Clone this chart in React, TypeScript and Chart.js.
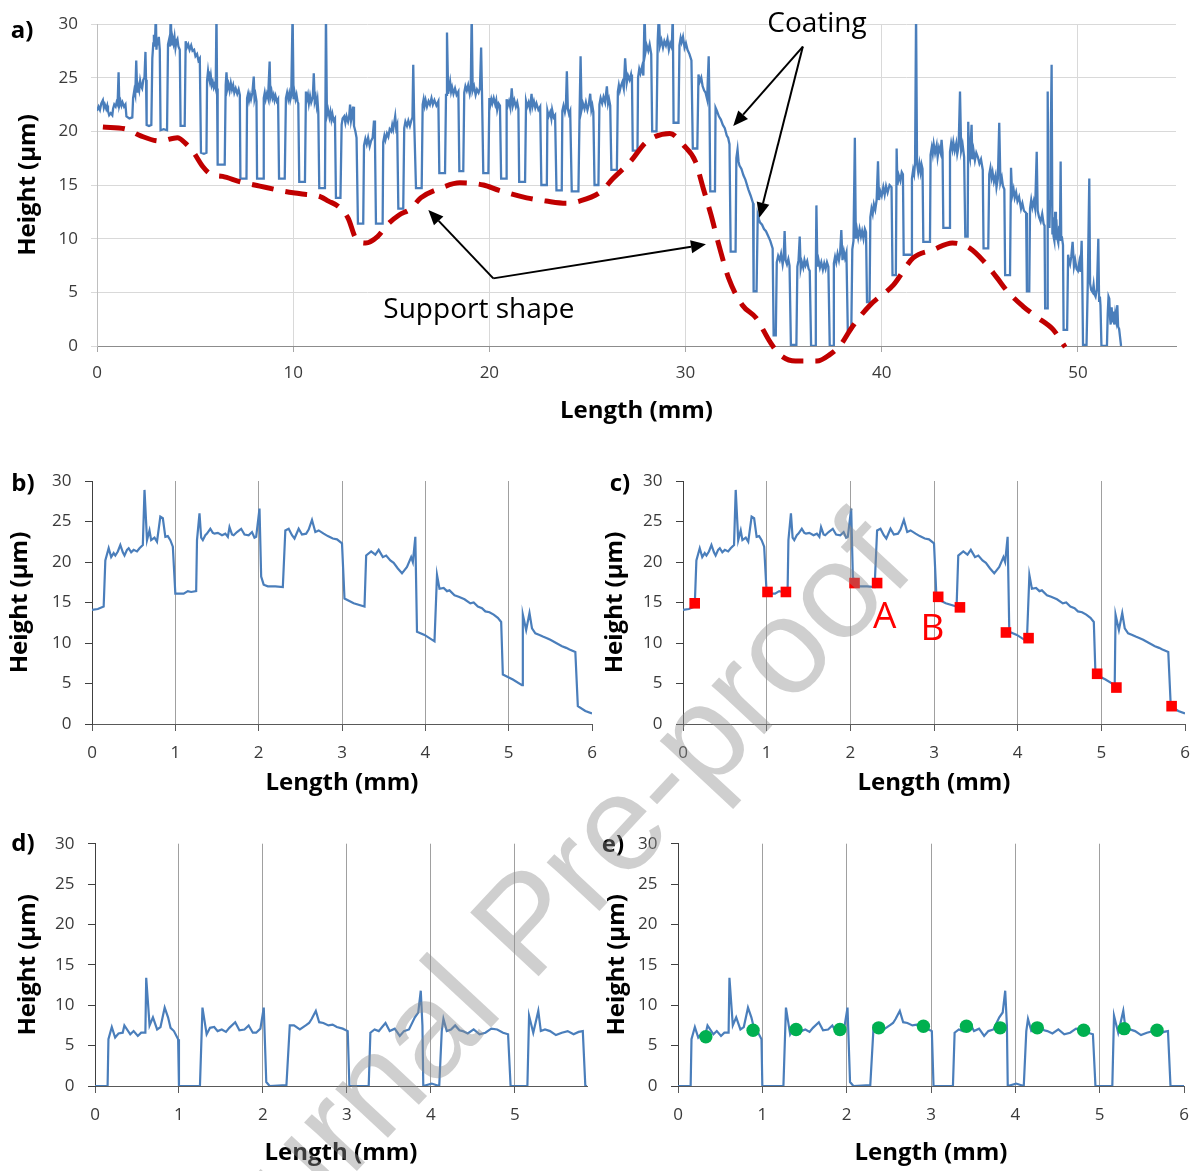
import React, { useEffect, useRef } from "react";
import { Chart, registerables } from "chart.js";

Chart.register(...registerables);

type Pt = [number, number];

// ---------- Panel a : full coating profile (Length mm, Height µm) ----------
const profileA: Pt[] = [
  [0, 21.9], [0.08, 22.3], [0.15, 22.0], [0.22, 22.6], [0.3, 22.9], [0.35, 22.2], [0.4, 22.5], [0.47, 22.1], [0.52, 22.4], [0.56, 21.9],
  [0.62, 21.5], [0.7, 21.7], [0.78, 21.5], [0.82, 22.1], [0.88, 22.5], [0.95, 22.3], [1.0, 22.7], [1.05, 22.5], [1.1, 25.5], [1.14, 22.4], [1.2, 22.8], [1.25, 22.4], [1.3, 22.7], [1.38, 22.3], [1.45, 22.5], [1.5, 21.4], [1.65, 21.2], [1.8, 21.3],
  [1.84, 23.1], [1.9, 23.8], [1.95, 23.4], [2.0, 26.6], [2.05, 23.6], [2.1, 24.2], [2.15, 23.8], [2.2, 24.7], [2.25, 24.2], [2.3, 24.0], [2.36, 24.8], [2.42, 25.0], [2.47, 27.4], [2.5, 24.8],
  [2.53, 20.6], [2.65, 20.5], [2.77, 20.6],
  [2.82, 26.8], [2.87, 28.2], [2.9, 29.0], [2.95, 27.9], [3.0, 31], [3.03, 27.6], [3.07, 28.6], [3.1, 28.0], [3.15, 28.8], [3.2, 27.6],
  [3.24, 20.1], [3.4, 20.2], [3.57, 20.1],
  [3.62, 28.1], [3.68, 28.6], [3.72, 27.9], [3.76, 31], [3.8, 28.0], [3.85, 28.7], [3.9, 28.2], [3.95, 28.8], [4.0, 27.8], [4.05, 28.4], [4.1, 28.6], [4.15, 27.9], [4.22, 27.6],
  [4.26, 20.5], [4.47, 20.5],
  [4.52, 28.4], [4.58, 27.8], [4.65, 28.1], [4.72, 27.6], [4.8, 28.0], [4.87, 27.5], [4.95, 27.6], [5.02, 27.0], [5.1, 27.2], [5.17, 26.6], [5.24, 26.8],
  [5.3, 18.0], [5.45, 17.9], [5.58, 18.0],
  [5.61, 24.7], [5.66, 25.6], [5.7, 25.0], [5.75, 24.6], [5.8, 25.2], [5.85, 24.3], [5.9, 24.6], [5.95, 24.1], [6.0, 24.4], [6.05, 24.0], [6.09, 31], [6.12, 24.0],
  [6.15, 16.9], [6.51, 16.9],
  [6.56, 24.3], [6.6, 25.5], [6.65, 24.0], [6.7, 24.4], [6.76, 23.8], [6.82, 24.5], [6.88, 23.9], [6.94, 24.3], [7.0, 23.6], [7.07, 24.0], [7.15, 23.5], [7.22, 23.9], [7.28, 23.4],
  [7.31, 15.6], [7.62, 15.6],
  [7.65, 23.1], [7.7, 23.5], [7.75, 22.9], [7.8, 23.4], [7.85, 23.0], [7.92, 23.6], [7.99, 25.1], [8.03, 23.0], [8.08, 23.4], [8.13, 22.8],
  [8.16, 15.6], [8.47, 15.6],
  [8.5, 23.1], [8.55, 23.6], [8.6, 23.0], [8.66, 23.5], [8.72, 23.1], [8.8, 26.5], [8.84, 23.2], [8.9, 23.7], [8.95, 23.1], [9.0, 23.4], [9.05, 22.9], [9.1, 23.3], [9.17, 22.8], [9.23, 23.0],
  [9.28, 15.6], [9.57, 15.6],
  [9.63, 23.1], [9.69, 23.6], [9.75, 23.0], [9.8, 23.5], [9.85, 22.9], [9.9, 23.3], [9.97, 31], [10.02, 23.0], [10.07, 23.6], [10.12, 23.0], [10.17, 23.4], [10.22, 22.8], [10.26, 22.6],
  [10.31, 15.3], [10.6, 15.3],
  [10.65, 23.7], [10.7, 23.0], [10.75, 23.4], [10.8, 22.6], [10.86, 23.3], [10.92, 22.7], [11.0, 23.2], [11.05, 25.4], [11.1, 22.8], [11.15, 23.2], [11.2, 22.4], [11.24, 22.9], [11.28, 21.8],
  [11.33, 14.7], [11.62, 14.7],
  [11.67, 31], [11.72, 21.5], [11.78, 22.0], [11.85, 21.3], [11.9, 21.8], [11.95, 21.1], [12.0, 21.6], [12.06, 21.0], [12.13, 21.2],
  [12.18, 13.8], [12.41, 13.8],
  [12.47, 20.6], [12.52, 21.2], [12.6, 21.4], [12.66, 20.8], [12.72, 21.4], [12.8, 20.9], [12.85, 21.3], [12.9, 22.5], [12.95, 21.0], [13.0, 21.5], [13.05, 22.3], [13.1, 20.5], [13.17, 20.0], [13.23, 19.4],
  [13.3, 11.4], [13.57, 11.4],
  [13.61, 18.7], [13.68, 19.3], [13.75, 18.8], [13.82, 19.4], [13.9, 18.6], [13.97, 19.1], [14.05, 19.4], [14.12, 21.0], [14.17, 19.0],
  [14.22, 11.4], [14.56, 11.4],
  [14.59, 19.0], [14.65, 19.6], [14.7, 19.2], [14.78, 19.8], [14.85, 19.5], [14.92, 20.2], [15.0, 20.0], [15.05, 20.6], [15.1, 20.2], [15.2, 21.4], [15.25, 20.3], [15.3, 20.6],
  [15.36, 12.8], [15.61, 12.8],
  [15.66, 20.3], [15.72, 20.9], [15.8, 20.5], [15.87, 21.0], [15.95, 20.5], [16.02, 21.0], [16.08, 21.3], [16.12, 26.2], [16.17, 20.8],
  [16.26, 14.7], [16.55, 14.7],
  [16.6, 22.5], [16.65, 23.0], [16.7, 22.4], [16.75, 22.9], [16.82, 22.3], [16.9, 22.8], [16.97, 22.5], [17.05, 23.1], [17.12, 22.5], [17.2, 22.9], [17.3, 22.4], [17.4, 22.8],
  [17.45, 16.1], [17.74, 16.1],
  [17.79, 23.4], [17.84, 29.2], [17.9, 23.5], [17.95, 24.0], [18.0, 24.6], [18.05, 23.7], [18.1, 24.1], [18.17, 23.5], [18.25, 24.0], [18.33, 23.4], [18.42, 23.7],
  [18.47, 16.3], [18.67, 16.3],
  [18.72, 23.6], [18.78, 24.2], [18.85, 23.8], [18.92, 24.3], [19.0, 23.5], [19.05, 24.0], [19.1, 31], [19.15, 23.8], [19.22, 24.2], [19.3, 23.4], [19.37, 23.9], [19.45, 23.6], [19.52, 24.0], [19.58, 27.8], [19.63, 23.0],
  [19.69, 16.1], [19.95, 16.1],
  [20.0, 23.1], [20.05, 22.5], [20.1, 23.0], [20.15, 22.6], [20.22, 23.1], [20.3, 22.5], [20.35, 22.9], [20.4, 22.0], [20.47, 22.6], [20.54, 22.4],
  [20.6, 15.6], [20.85, 15.6],
  [20.88, 23.0], [20.94, 22.4], [21.0, 22.8], [21.07, 22.2], [21.14, 24.0], [21.2, 22.4], [21.27, 22.9], [21.35, 22.3], [21.42, 22.7], [21.48, 22.1],
  [21.52, 15.3], [21.82, 15.3],
  [21.87, 22.8], [21.93, 22.3], [22.0, 22.7], [22.07, 22.1], [22.15, 23.5], [22.2, 22.3], [22.27, 22.8], [22.34, 22.2], [22.4, 22.6], [22.5, 22.0], [22.59, 22.3],
  [22.65, 15.0], [22.93, 15.0],
  [22.96, 21.9], [23.02, 21.4], [23.1, 21.8], [23.16, 21.2], [23.2, 22.0], [23.28, 21.3], [23.35, 21.5],
  [23.42, 14.5], [23.69, 14.5],
  [23.72, 21.9], [23.78, 22.4], [23.85, 21.8], [23.9, 22.3], [23.95, 25.6], [24.0, 22.1], [24.06, 21.6], [24.12, 21.9],
  [24.2, 14.4], [24.54, 14.4],
  [24.6, 21.9], [24.65, 27.0], [24.7, 22.0], [24.77, 22.6], [24.85, 22.1], [24.92, 22.7], [25.0, 22.0], [25.07, 22.5], [25.14, 23.5], [25.2, 22.0], [25.25, 22.4], [25.3, 21.8],
  [25.36, 15.0], [25.56, 15.0],
  [25.61, 22.5], [25.67, 23.1], [25.75, 22.6], [25.82, 23.2], [25.9, 22.7], [25.99, 24.2], [26.05, 22.6], [26.1, 23.0], [26.16, 22.4],
  [26.22, 16.4], [26.5, 16.4],
  [26.55, 23.7], [26.6, 24.3], [26.65, 23.8], [26.7, 24.2], [26.78, 24.6], [26.85, 24.0], [26.92, 26.8], [27.0, 24.5], [27.07, 25.2], [27.15, 24.8], [27.22, 25.3], [27.27, 24.6],
  [27.31, 18.2], [27.55, 18.2],
  [27.58, 25.0], [27.64, 25.8], [27.7, 25.4], [27.78, 26.0], [27.85, 25.2], [27.91, 31], [27.96, 27.4], [28.02, 28.0], [28.1, 27.5], [28.17, 28.1], [28.25, 27.2],
  [28.3, 20.0], [28.52, 20.0],
  [28.58, 28.4], [28.64, 31], [28.7, 28.0], [28.77, 28.5], [28.85, 27.8], [28.92, 28.4], [29.0, 28.0], [29.08, 28.6], [29.15, 27.6], [29.22, 28.2], [29.3, 27.8], [29.35, 31],
  [29.39, 20.8], [29.64, 20.8],
  [29.69, 28.0], [29.75, 28.7], [29.8, 28.3], [29.87, 28.8], [29.95, 27.8], [30.02, 28.2], [30.1, 27.6], [30.2, 27.2], [30.3, 26.6],
  [30.37, 18.4], [30.6, 18.4],
  [30.66, 25.3], [30.72, 24.6], [30.8, 25.0], [30.87, 24.2], [30.95, 23.8], [31.02, 23.6], [31.1, 23.0], [31.18, 27.0], [31.22, 22.5],
  [31.26, 14.4], [31.5, 14.4],
  [31.53, 22.2], [31.6, 21.9], [31.7, 21.4], [31.8, 21.1], [31.9, 20.6], [32.0, 20.3], [32.1, 19.6], [32.17, 19.4], [32.24, 18.8],
  [32.3, 8.8], [32.55, 8.8],
  [32.59, 17.5], [32.65, 18.3], [32.7, 17.2], [32.75, 16.8], [32.85, 16.5], [32.95, 15.9], [33.05, 15.5], [33.2, 14.6], [33.32, 14.0], [33.44, 13.3],
  [33.47, 5.1], [33.62, 5.1],
  [33.68, 12.2], [33.74, 11.8], [33.8, 11.5], [33.9, 11.3], [34.0, 10.9], [34.1, 10.7], [34.2, 10.3], [34.32, 9.8], [34.44, 9.1],
  [34.49, 1.0], [34.6, 1.0],
  [34.65, 7.8], [34.72, 8.4], [34.8, 8.0], [34.87, 8.6], [34.95, 7.6], [35.0, 8.2], [35.05, 10.7], [35.1, 8.0], [35.17, 7.6], [35.24, 8.1], [35.3, 7.5],
  [35.37, 0.1], [35.65, 0.1],
  [35.7, 7.4], [35.76, 8.0], [35.82, 10.2], [35.87, 7.2], [35.93, 7.8], [36.0, 7.3], [36.06, 8.0], [36.12, 7.5], [36.2, 7.9], [36.27, 7.2], [36.33, 7.0],
  [36.4, 0], [36.6, 0],
  [36.64, 7.0], [36.67, 13.1], [36.72, 7.4], [36.78, 8.0], [36.85, 7.3], [36.92, 7.8], [37.0, 7.1], [37.07, 7.7], [37.14, 7.2], [37.21, 7.8], [37.28, 7.4],
  [37.35, 0], [37.52, 0],
  [37.56, 7.7], [37.62, 8.3], [37.68, 7.8], [37.75, 8.6], [37.82, 8.0], [37.88, 8.7], [37.94, 10.8], [38.0, 8.0], [38.07, 8.8], [38.13, 8.2], [38.2, 8.7],
  [38.27, 1.5], [38.45, 1.5],
  [38.5, 9.0], [38.56, 9.8], [38.63, 19.4], [38.68, 10.0], [38.74, 10.8], [38.8, 10.1], [38.87, 10.9], [38.94, 10.2], [39.0, 10.7], [39.07, 10.0], [39.14, 10.9], [39.2, 10.6],
  [39.25, 4.1], [39.38, 4.1],
  [39.42, 12.0], [39.48, 12.8], [39.54, 12.3], [39.6, 13.2], [39.67, 12.7], [39.74, 13.6], [39.81, 17.2], [39.86, 13.6], [39.93, 14.4], [40.0, 14.0], [40.08, 14.8], [40.15, 14.1], [40.22, 14.9], [40.3, 14.3], [40.4, 15.0], [40.5, 14.8],
  [40.55, 6.6], [40.72, 6.6],
  [40.76, 18.4], [40.8, 15.0], [40.87, 15.9], [40.95, 15.4], [41.02, 16.2], [41.08, 16.0],
  [41.12, 8.5], [41.5, 8.5],
  [41.54, 15.6], [41.6, 16.4], [41.65, 16.0], [41.7, 17.1], [41.75, 31], [41.8, 17.0], [41.86, 16.2], [41.92, 17.0], [41.98, 16.2], [42.03, 16.9], [42.08, 16.5],
  [42.12, 9.7], [42.46, 9.7],
  [42.49, 17.8], [42.55, 18.5], [42.6, 17.9], [42.65, 18.8], [42.72, 18.0], [42.8, 18.7], [42.85, 17.6], [42.92, 18.5], [43.0, 18.0], [43.05, 19.2], [43.1, 18.0],
  [43.14, 11.0], [43.44, 11.0],
  [43.48, 18.1], [43.54, 18.9], [43.6, 18.3], [43.65, 19.0], [43.72, 18.2], [43.8, 18.9], [43.85, 17.9], [43.92, 18.6], [43.99, 23.7], [44.05, 18.2], [44.12, 18.8], [44.2, 17.6],
  [44.26, 10.2], [44.38, 10.2],
  [44.41, 20.9], [44.45, 18.0], [44.5, 17.5], [44.58, 20.6], [44.62, 17.4], [44.68, 18.2], [44.75, 17.3], [44.82, 18.0], [44.9, 17.6], [44.98, 17.0], [45.06, 17.4], [45.15, 16.4],
  [45.19, 9.1], [45.43, 9.1],
  [45.48, 16.0], [45.54, 16.6], [45.6, 15.7], [45.65, 16.2], [45.72, 15.3], [45.8, 15.9], [45.85, 14.8], [45.92, 15.6], [45.99, 20.8], [46.05, 15.2], [46.12, 15.7], [46.18, 14.9], [46.25, 14.6],
  [46.29, 6.6], [46.54, 6.6],
  [46.59, 16.6], [46.65, 14.0], [46.72, 14.6], [46.78, 13.8], [46.85, 14.3], [46.92, 13.5], [47.0, 13.9], [47.1, 12.8], [47.17, 13.3], [47.25, 12.6], [47.36, 12.4],
  [47.4, 5.1], [47.52, 5.1],
  [47.56, 12.8], [47.62, 13.6], [47.68, 12.9], [47.75, 13.5], [47.82, 12.8], [47.9, 18.1], [47.95, 12.6], [48.02, 12.0], [48.1, 11.6], [48.18, 12.3], [48.25, 11.4], [48.3, 11.2],
  [48.33, 3.5], [48.44, 3.5],
  [48.46, 23.7], [48.5, 12.2], [48.55, 11.0], [48.58, 13.5], [48.62, 20.0], [48.66, 26.2], [48.7, 10.5], [48.72, 12.0], [48.76, 10.2], [48.8, 9.8], [48.84, 12.5], [48.88, 9.9], [48.9, 11.8], [48.95, 10.0], [49.0, 9.6], [49.05, 11.2], [49.08, 9.8], [49.12, 17.2], [49.15, 9.9], [49.18, 10.2], [49.24, 9.4],
  [49.27, 1.5], [49.45, 1.5],
  [49.5, 8.5], [49.55, 7.9], [49.6, 7.6], [49.66, 8.3], [49.73, 9.7], [49.8, 7.4], [49.86, 8.0], [49.93, 7.2], [50.0, 7.0], [50.07, 7.8], [50.13, 6.9], [50.19, 9.8], [50.22, 6.8],
  [50.26, 0.1], [50.44, 0.1],
  [50.5, 5.6], [50.58, 15.6], [50.62, 5.8], [50.68, 5.2], [50.75, 5.0], [50.8, 5.7], [50.85, 4.8], [50.9, 4.6], [50.97, 5.3], [51.04, 10.0], [51.08, 4.2], [51.12, 4.6], [51.15, 3.8],
  [51.2, 0], [51.48, 0],
  [51.52, 3.0], [51.56, 4.6], [51.6, 4.4], [51.64, 2.6], [51.67, 2.0], [51.72, 3.6], [51.76, 2.2], [51.8, 3.2], [51.85, 2.0], [51.9, 3.0], [51.95, 2.4], [52.01, 3.8], [52.05, 1.8], [52.1, 1.6], [52.15, 0.8], [52.2, 0],
];

// Panel a : support shape (red dashed guide)
const supportA: Pt[] = [
  [0.3, 20.4], [1.5, 20.2], [2.2, 19.6], [3.2, 19.1], [4.1, 19.4], [4.5, 18.9], [4.9, 18.1], [5.4, 16.7],
  [5.8, 16.0], [6.4, 15.8], [7.3, 15.3], [8.3, 14.9], [9.3, 14.5], [10.3, 14.2], [11.4, 13.9], [11.8, 13.5],
  [12.3, 13.0], [12.8, 11.9], [13.2, 10.0], [13.7, 9.6], [14.3, 10.2], [14.8, 11.3], [15.4, 12.2], [16.0, 12.8],
  [16.5, 13.8], [17.5, 14.7], [18.5, 15.2], [19.7, 15.0], [20.5, 14.5], [21.9, 13.8], [22.9, 13.5], [23.9, 13.3],
  [24.6, 13.5], [25.7, 14.4], [26.3, 15.6], [27.2, 17.2], [28.0, 19.0], [29.2, 19.8], [29.9, 18.7], [30.5, 17.2],
  [30.9, 14.7], [31.3, 12.2], [31.7, 9.4], [32.2, 6.3], [32.9, 3.8], [33.6, 2.6], [34.3, 0.4], [34.8, -0.8],
  [35.6, -1.4], [36.7, -1.4], [37.35, -0.8], [37.9, 0.1], [38.5, 1.8], [39.4, 3.8], [40.6, 5.7], [41.6, 8.2],
  [42.6, 8.95], [43.6, 9.6], [44.5, 9.1], [45.2, 7.9], [45.9, 6.3], [46.4, 5.1], [47.2, 3.7], [47.9, 2.7],
  [48.75, 1.5], [49.35, -0.1],
];

// ---------- Panels b & c : 6 mm section ----------
const profileBC: Pt[] = [
  [0, 14.1], [0.07, 14.2], [0.14, 14.5], [0.16, 20.2], [0.2, 21.7], [0.23, 20.6], [0.26, 21.1], [0.28, 20.8], [0.31, 21.3],
  [0.34, 22.1], [0.37, 21.2], [0.39, 20.8], [0.42, 21.5], [0.44, 21.7], [0.47, 21.2], [0.5, 21.5], [0.54, 21.3], [0.57, 21.7],
  [0.61, 22.1], [0.63, 28.9], [0.66, 22.7], [0.69, 23.9], [0.71, 22.7], [0.75, 23.0], [0.78, 22.5], [0.82, 25.6], [0.85, 25.4],
  [0.88, 23.1], [0.91, 23.2], [0.94, 22.7], [0.97, 21.9],
  [1.0, 16.1], [1.1, 16.1], [1.15, 16.4], [1.19, 16.3], [1.25, 16.4],
  [1.26, 22.7], [1.29, 26.0], [1.31, 23.0], [1.33, 22.7], [1.36, 23.3], [1.38, 23.5], [1.42, 24.1], [1.45, 23.6], [1.47, 23.5],
  [1.51, 23.6], [1.56, 23.3], [1.6, 23.5], [1.63, 23.1], [1.65, 24.3], [1.68, 23.4], [1.7, 23.3], [1.74, 23.7], [1.79, 24.1],
  [1.83, 23.4], [1.88, 23.3], [1.92, 23.7], [1.95, 23.0], [1.97, 23.1], [2.01, 26.6],
  [2.03, 18.2], [2.06, 17.2], [2.11, 17.0], [2.2, 17.0], [2.29, 16.9],
  [2.32, 23.9], [2.36, 24.1], [2.4, 23.3], [2.43, 22.9], [2.48, 24.1], [2.52, 23.4], [2.57, 23.5], [2.6, 24.0], [2.64, 25.2],
  [2.68, 23.7], [2.72, 23.9], [2.78, 23.5], [2.83, 23.2], [2.89, 22.9], [2.94, 22.8], [3.0, 22.3],
  [3.03, 15.5], [3.14, 14.9], [3.27, 14.5],
  [3.29, 20.8], [3.35, 21.3], [3.4, 20.9], [3.44, 21.5], [3.49, 20.6], [3.53, 20.8], [3.58, 20.2], [3.62, 19.9], [3.67, 19.2],
  [3.72, 18.6], [3.78, 19.4], [3.83, 20.6], [3.85, 20.0], [3.88, 23.1],
  [3.9, 11.4], [3.99, 11.0], [4.11, 10.2],
  [4.14, 18.4], [4.17, 16.7], [4.22, 16.8], [4.26, 16.4], [4.29, 16.5], [4.35, 15.9], [4.4, 15.7], [4.47, 15.4], [4.54, 14.9],
  [4.58, 15.0], [4.63, 14.5], [4.68, 14.3], [4.72, 13.9], [4.77, 13.8], [4.82, 13.5], [4.87, 13.1], [4.91, 12.6],
  [4.93, 6.1], [5.05, 5.5], [5.16, 4.8],
  [5.17, 13.5], [5.21, 11.6], [5.25, 13.7], [5.28, 11.8], [5.32, 11.2], [5.37, 11.0], [5.41, 10.8], [5.46, 10.6], [5.5, 10.4],
  [5.57, 10.0], [5.64, 9.6], [5.69, 9.4], [5.73, 9.2], [5.8, 8.9],
  [5.83, 2.2], [5.92, 1.6], [6.0, 1.3],
];

// Panel c : trench-edge points (red squares) and labels
const squaresC: Pt[] = [
  [0.14, 14.9], [1.01, 16.3], [1.23, 16.3], [2.05, 17.4], [2.32, 17.4], [3.05, 15.7],
  [3.31, 14.4], [3.86, 11.3], [4.13, 10.6], [4.95, 6.2], [5.18, 4.5], [5.84, 2.2],
];
const lettersC = ["A", "B"];
const lettersCX = [2.41, 2.98];
const lettersCY = [11.8, 10.4];

// ---------- Panels d & e : coating thickness after support removal ----------
const profileDE: Pt[] = [
  [0, 0], [0.15, 0], [0.16, 5.8], [0.2, 7.3], [0.24, 6.0], [0.28, 6.5], [0.33, 6.6], [0.35, 7.5], [0.42, 6.4], [0.46, 6.8],
  [0.51, 6.2], [0.55, 6.6], [0.6, 6.6], [0.61, 13.4], [0.65, 7.5], [0.69, 8.5], [0.74, 7.0], [0.78, 7.3], [0.83, 9.7],
  [0.87, 8.5], [0.9, 7.2], [0.94, 6.8], [0.99, 5.8], [1.0, 0],
  [1.25, 0], [1.28, 9.7], [1.33, 6.4], [1.37, 7.2], [1.42, 7.3], [1.46, 6.8], [1.51, 7.0], [1.56, 6.7], [1.6, 7.2], [1.67, 7.9],
  [1.72, 6.9], [1.78, 7.0], [1.83, 7.5], [1.88, 6.6], [1.92, 6.6], [1.97, 7.1], [2.01, 9.7], [2.04, 0.5], [2.08, 0],
  [2.28, 0.1], [2.32, 7.5], [2.37, 7.5], [2.44, 7.0], [2.51, 7.5], [2.55, 7.8], [2.58, 8.3], [2.63, 9.3], [2.67, 7.9],
  [2.72, 7.8], [2.78, 7.5], [2.83, 7.6], [2.88, 7.3], [2.95, 7.1], [3.01, 6.8], [3.03, 0],
  [3.26, 0], [3.28, 6.6], [3.33, 7.0], [3.38, 6.8], [3.42, 7.3], [3.46, 7.8], [3.51, 6.8], [3.57, 7.1], [3.63, 6.2],
  [3.68, 6.8], [3.74, 7.0], [3.81, 8.5], [3.85, 9.1], [3.88, 11.8], [3.9, 7.5], [3.91, 0],
  [4.01, 0.3], [4.1, 0], [4.13, 6.8], [4.15, 8.3], [4.19, 6.8], [4.24, 7.0], [4.29, 7.5], [4.34, 6.9], [4.38, 6.8],
  [4.44, 6.5], [4.51, 7.0], [4.58, 6.4], [4.65, 6.6], [4.72, 7.1], [4.79, 7.0], [4.86, 6.6], [4.92, 6.4], [4.95, 0],
  [5.15, 0], [5.17, 8.7], [5.22, 6.6], [5.28, 9.3], [5.31, 6.8], [5.36, 7.0], [5.42, 6.8], [5.49, 6.3], [5.56, 6.6],
  [5.63, 6.8], [5.7, 6.4], [5.76, 6.7], [5.81, 6.8], [5.84, 0], [6.0, 0],
];

// Panel e : measurement points (green circles)
const circlesE: Pt[] = [
  [0.33, 6.1], [0.89, 6.9], [1.4, 7.0], [1.92, 7.0], [2.38, 7.2], [2.91, 7.4],
  [3.42, 7.4], [3.82, 7.2], [4.26, 7.2], [4.81, 6.9], [5.29, 7.1], [5.68, 6.9],
];

// ---------- Tick values ----------
const xTicksA = [0, 10, 20, 30, 40, 50];
const xTicksSmall = [0, 1, 2, 3, 4, 5, 6];
const xTicksD = [0, 1, 2, 3, 4, 5];
const yTicks = [0, 5, 10, 15, 20, 25, 30];

// ---------- Panel a annotations (data coordinates) ----------
const annoTexts = ["Coating", "Support shape"];
const annoTextX = [36.7, 19.47];
const annoTextY = [29.28, 2.58];
const arrowFromX = [35.98, 35.98, 20.2, 20.2];
const arrowFromY = [27.9, 27.9, 6.3, 6.3];
const arrowToX = [32.43, 33.76, 16.89, 31.04];
const arrowToY = [20.5, 11.95, 12.67, 9.47];

const FONT = "'Open Sans', 'DejaVu Sans', sans-serif";
const BLUE = "#4A7EBB";
const TICK_COLOR = "#3A3A3A";

const xy = (pts: Pt[]) => pts.map(([x, y]) => ({ x, y }));

interface PanelSpec {
  kind: "a" | "small";
  left: number;
  top: number;
  width: number;
  height: number;
  plot: { l: number; t: number; r: number; b: number };
  xMax: number;
  xTicks: number[];
  yTitleX: number;
  xTitleY: number;
  datasets: any[];
  plugins?: any[];
}

const annotationPlugin = {
  id: "annoA",
  afterDatasetsDraw(chart: any) {
    const { ctx } = chart;
    const xs = chart.scales.x;
    const ys = chart.scales.y;
    ctx.save();
    ctx.strokeStyle = "#000";
    ctx.fillStyle = "#000";
    ctx.lineWidth = 2;
    for (let i = 0; i < arrowFromX.length; i++) {
      const x0 = xs.getPixelForValue(arrowFromX[i]);
      const y0 = ys.getPixelForValue(arrowFromY[i]);
      const x1 = xs.getPixelForValue(arrowToX[i]);
      const y1 = ys.getPixelForValue(arrowToY[i]);
      const ang = Math.atan2(y1 - y0, x1 - x0);
      const headL = 15;
      const headW = 6.5;
      const bx = x1 - headL * Math.cos(ang);
      const by = y1 - headL * Math.sin(ang);
      ctx.beginPath();
      ctx.moveTo(x0, y0);
      ctx.lineTo(bx, by);
      ctx.stroke();
      ctx.beginPath();
      ctx.moveTo(x1, y1);
      ctx.lineTo(bx + headW * Math.sin(ang), by - headW * Math.cos(ang));
      ctx.lineTo(bx - headW * Math.sin(ang), by + headW * Math.cos(ang));
      ctx.closePath();
      ctx.fill();
    }
    ctx.font = `28px ${FONT}`;
    ctx.textAlign = "center";
    ctx.textBaseline = "alphabetic";
    for (let i = 0; i < annoTexts.length; i++) {
      ctx.fillText(annoTexts[i], xs.getPixelForValue(annoTextX[i]), ys.getPixelForValue(annoTextY[i]));
    }
    ctx.restore();
  },
};

const lettersPlugin = {
  id: "lettersC",
  afterDatasetsDraw(chart: any) {
    const { ctx } = chart;
    const xs = chart.scales.x;
    const ys = chart.scales.y;
    ctx.save();
    ctx.fillStyle = "#FF0000";
    ctx.font = `37px ${FONT}`;
    ctx.textAlign = "center";
    ctx.textBaseline = "alphabetic";
    for (let i = 0; i < lettersC.length; i++) {
      ctx.fillText(lettersC[i], xs.getPixelForValue(lettersCX[i]), ys.getPixelForValue(lettersCY[i]));
    }
    ctx.restore();
  },
};

function buildConfig(s: PanelSpec): any {
  const big = s.kind === "a";
  const tickFont = { family: FONT, size: 17 };
  const titleFont = { family: FONT, size: 24, weight: "bold" as const };
  const tickLen = big ? 6 : 7;
  const xLabelCenter = big ? 27 : 29.3;
  const xPad = xLabelCenter - tickLen - 10.2;
  const yPad = big ? 13 : 13.5;
  return {
    type: "scatter",
    data: { datasets: s.datasets },
    options: {
      animation: false,
      responsive: false,
      devicePixelRatio: 1,
      layout: { padding: { left: 0, top: s.plot.t, right: s.width - s.plot.r, bottom: 0 } },
      plugins: { legend: { display: false }, tooltip: { enabled: false } },
      elements: { point: { hoverRadius: 0 } },
      scales: {
        x: {
          type: "linear",
          min: 0,
          max: s.xMax,
          afterBuildTicks: (a: any) => {
            a.ticks = s.xTicks.map((v) => ({ value: v }));
          },
          afterFit: (a: any) => {
            a.height = s.height - s.plot.b;
          },
          grid: big
            ? { color: "#D9D9D9", lineWidth: 1, drawTicks: true, tickLength: tickLen, tickColor: "#A6A6A6" }
            : {
                color: (c: any) =>
                  c.tick && (c.tick.value === 0 || c.tick.value >= 6) ? "rgba(0,0,0,0)" : "#A0A0A0",
                lineWidth: 1,
                drawTicks: true,
                tickLength: tickLen,
                tickColor: "#595959",
              },
          border: { display: true, color: big ? "#8C8C8C" : "#595959", width: 1 },
          ticks: { font: tickFont, color: TICK_COLOR, padding: xPad, maxRotation: 0, autoSkip: false },
          title: {
            display: true,
            text: "Length (mm)",
            font: titleFont,
            color: "#000",
            padding: { top: 0, bottom: s.height - s.xTitleY - 14.4 },
          },
        },
        y: {
          type: "linear",
          min: 0,
          max: 30,
          afterBuildTicks: (a: any) => {
            a.ticks = yTicks.map((v) => ({ value: v }));
          },
          afterFit: (a: any) => {
            a.width = s.plot.l;
          },
          grid: big
            ? { color: "#D9D9D9", lineWidth: 1, drawTicks: true, tickLength: tickLen, tickColor: "#D9D9D9" }
            : { drawOnChartArea: false, drawTicks: true, tickLength: tickLen, tickColor: "#404040" },
          border: { display: true, color: big ? "#BFBFBF" : "#404040", width: 1 },
          ticks: { font: tickFont, color: TICK_COLOR, padding: yPad, autoSkip: false },
          title: {
            display: true,
            text: "Height (µm)",
            font: titleFont,
            color: "#000",
            padding: { top: s.yTitleX - 14.4, bottom: 0 },
          },
        },
      },
    },
    plugins: s.plugins ?? [],
  };
}

function Panel({ spec }: { spec: PanelSpec }) {
  const ref = useRef<HTMLCanvasElement>(null);
  useEffect(() => {
    if (!ref.current) return;
    const chart = new Chart(ref.current, buildConfig(spec));
    return () => chart.destroy();
  }, []);
  return (
    <canvas
      ref={ref}
      width={spec.width}
      height={spec.height}
      style={{ position: "absolute", left: spec.left, top: spec.top, width: spec.width, height: spec.height }}
    />
  );
}

const lineDs = (pts: Pt[], w: number) => ({
  data: xy(pts),
  showLine: true,
  borderColor: BLUE,
  backgroundColor: BLUE,
  borderWidth: w,
  pointRadius: 0,
  tension: 0,
});

const panels: PanelSpec[] = [
  {
    kind: "a",
    left: 0,
    top: 0,
    width: 1191,
    height: 432,
    plot: { l: 97, t: 24, r: 1176, b: 346 },
    xMax: 55,
    xTicks: xTicksA,
    yTitleX: 28,
    xTitleY: 411,
    datasets: [
      {
        data: xy(supportA),
        showLine: true,
        borderColor: "#C00000",
        borderWidth: 5,
        borderDash: [22, 12],
        borderCapStyle: "butt",
        pointRadius: 0,
        cubicInterpolationMode: "monotone",
        clip: false,
      },
      lineDs(profileA, 2.3),
    ],
    plugins: [annotationPlugin],
  },
  {
    kind: "small",
    left: 0,
    top: 455,
    width: 612,
    height: 345,
    plot: { l: 92, t: 26, r: 592, b: 269 },
    xMax: 6,
    xTicks: xTicksSmall,
    yTitleX: 20,
    xTitleY: 328,
    datasets: [lineDs(profileBC, 2.2)],
  },
  {
    kind: "small",
    left: 595,
    top: 455,
    width: 610,
    height: 345,
    plot: { l: 88, t: 26, r: 590, b: 269 },
    xMax: 6,
    xTicks: xTicksSmall,
    yTitleX: 20,
    xTitleY: 328,
    datasets: [
      {
        data: xy(squaresC),
        showLine: false,
        pointStyle: "rect",
        pointRadius: 7.5,
        backgroundColor: "#FF0000",
        borderWidth: 0,
      },
      lineDs(profileBC, 2.2),
    ],
    plugins: [lettersPlugin],
  },
  {
    kind: "small",
    left: 0,
    top: 820,
    width: 600,
    height: 351,
    plot: { l: 95, t: 22, r: 587, b: 266 },
    xMax: 5.86,
    xTicks: xTicksD,
    yTitleX: 28,
    xTitleY: 333,
    datasets: [lineDs(profileDE, 2.2)],
  },
  {
    kind: "small",
    left: 595,
    top: 820,
    width: 609,
    height: 351,
    plot: { l: 83, t: 23, r: 589, b: 266 },
    xMax: 6,
    xTicks: xTicksSmall,
    yTitleX: 22,
    xTitleY: 333,
    datasets: [
      {
        data: xy(circlesE),
        showLine: false,
        pointStyle: "circle",
        pointRadius: 6.7,
        backgroundColor: "#00B050",
        borderWidth: 0,
      },
      lineDs(profileDE, 2.2),
    ],
  },
];

const panelLetters = ["a)", "b)", "c)", "d)", "e)"];
const letterX = [22, 23, 620, 23, 613];
const letterY = [29, 482, 482, 842, 843];

export default function App() {
  return (
    <div
      style={{
        position: "absolute",
        left: 0,
        top: 0,
        width: 1191,
        height: 1171,
        background: "#fff",
        overflow: "hidden",
        fontFamily: FONT,
      }}
    >
      {panels.map((p, i) => (
        <Panel key={i} spec={p} />
      ))}
      {panelLetters.map((t, i) => (
        <div
          key={t}
          style={{
            position: "absolute",
            left: letterX[i],
            top: letterY[i],
            transform: "translate(-50%, -50%)",
            fontFamily: FONT,
            fontWeight: 700,
            fontSize: 24,
            lineHeight: 1,
            color: "#000",
          }}
        >
          {t}
        </div>
      ))}
      <div
        style={{
          position: "absolute",
          left: 525,
          top: 922,
          transform: "translate(-50%, -50%) rotate(-47deg)",
          fontFamily: "'Liberation Sans', Arial, sans-serif",
          fontSize: 136,
          lineHeight: 1,
          whiteSpace: "nowrap",
          color: "rgba(140,140,140,0.42)",
          pointerEvents: "none",
        }}
      >
        Journal Pre-proof
      </div>
    </div>
  );
}
